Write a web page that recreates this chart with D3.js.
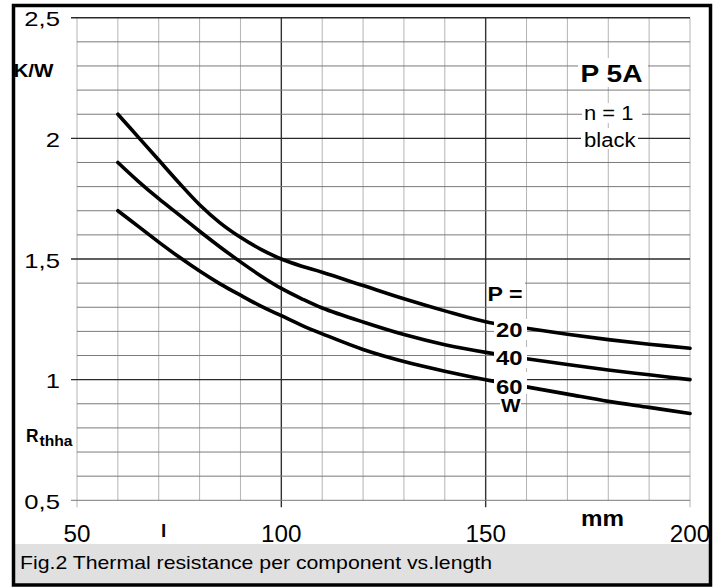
<!DOCTYPE html>
<html>
<head>
<meta charset="utf-8">
<script src="https://cdn.jsdelivr.net/npm/d3@7"></script>
<style>
  body { margin: 0; background: #fff; }
  svg text { font-family: "Liberation Sans", Arial, sans-serif; fill: #000; }
  .bold { font-weight: bold; }
</style>
</head>
<body>
<div id="chart"></div>
<script>
// length l in mm
var lengths = [60, 65, 70, 75, 80, 85, 90, 95, 100, 105, 110, 120, 130, 140, 150, 160, 170, 180, 190, 200]

// Rthha in K/W, one array per power P
var p20 = [2.10, 2.005, 1.91, 1.815, 1.725, 1.65, 1.59, 1.54, 1.50, 1.47, 1.445, 1.39, 1.335, 1.285, 1.24, 1.213, 1.188, 1.166, 1.147, 1.13]
var p40 = [1.90, 1.822, 1.75, 1.683, 1.615, 1.55, 1.488, 1.43, 1.378, 1.335, 1.297, 1.239, 1.187, 1.145, 1.113, 1.087, 1.063, 1.04, 1.02, 1.00]
var p60 = [1.70, 1.635, 1.57, 1.508, 1.45, 1.397, 1.35, 1.305, 1.265, 1.225, 1.19, 1.125, 1.075, 1.035, 1.00, 0.97, 0.94, 0.91, 0.885, 0.86]

var xTicks = [50, 100, 150, 200]
var yTicks = [0.5, 1, 1.5, 2, 2.5]
var yTickLabels = ["0,5", "1", "1,5", "2", "2,5"]
var powerLabels = ["20", "40", "60"]

var W = 723, H = 588

var svg = d3.select("#chart").append("svg")
  .attr("width", W)
  .attr("height", H)

var x = d3.scaleLinear().domain([50, 200]).range([77, 690])
  , y = d3.scaleLinear().domain([0.5, 2.5]).range([500.3, 17.7])

// squeeze/stretch a text to a given width
function fit(sel, w) {
  return sel.attr("textLength", w).attr("lengthAdjust", "spacingAndGlyphs")
}
function stretch(sel, k) {
  sel.each(function() {
    fit(d3.select(this), this.getComputedTextLength() * k)
  })
  return sel
}
function label(txt, px, py, size, bold) {
  return svg.append("text")
    .attr("class", bold ? "bold" : null)
    .attr("x", px).attr("y", py)
    .style("font-size", size + "px")
    .text(txt)
}
function mask(x0, y0, w, h) {
  svg.append("rect").attr("x", x0).attr("y", y0).attr("width", w).attr("height", h).attr("fill", "#fff")
}

// caption strip
svg.append("rect").attr("x", 15).attr("y", 544).attr("width", 694).attr("height", 41).attr("fill", "#e0e0e0")

// grid
var grid = svg.append("g")
d3.range(50, 201, 10).forEach(function(v) {
  var major = v === 100 || v === 150
  grid.append("line")
    .attr("x1", x(v)).attr("x2", x(v))
    .attr("y1", y(2.5)).attr("y2", y(0.5) + (v % 50 === 0 ? 7 : 0))
    .attr("stroke", major ? "#333" : "#b4b4b4")
    .attr("stroke-width", major ? 1.4 : 1)
})
d3.range(5, 26).forEach(function(i) {
  var v = i / 10
    , major = i % 5 === 0 && i !== 5
  grid.append("line")
    .attr("x1", x(50) - (i % 5 === 0 ? 6 : 0)).attr("x2", x(200))
    .attr("y1", y(v)).attr("y2", y(v))
    .attr("stroke", major ? "#2a2a2a" : "#7a7a7a")
    .attr("stroke-width", major ? 1.4 : 1)
})

// curves
var line = d3.line()
  .x(function(d) { return x(d[0]) })
  .y(function(d) { return y(d[1]) })
  .curve(d3.curveCatmullRom.alpha(0.5))

;[p20, p40, p60].forEach(function(s) {
  svg.append("path")
    .attr("d", line(d3.zip(lengths, s)))
    .attr("fill", "none")
    .attr("stroke", "#000")
    .attr("stroke-width", 3.6)
    .attr("stroke-linecap", "round")
})

// axis tick labels
yTicks.forEach(function(v, i) {
  stretch(label(yTickLabels[i], 60, y(v) + 8.5, 21).attr("text-anchor", "end"), 1.22)
})
xTicks.forEach(function(v) {
  stretch(label(String(v), x(v), 541.7, 23.5).attr("text-anchor", "middle"), 1.03)
})

// axis titles
fit(label("K/W", 13.5, 76.5, 17.5, true), 40)
fit(label("R", 26, 442, 17.5, true), 12.5)
fit(label("thha", 39.5, 446, 14, true), 33)
label("l", 161, 537, 19, true)
fit(label("mm", 581, 525.5, 22, true), 43)

// P = labels between the curves
mask(487, 280, 38, 24)
fit(label("P =", 487.5, 301, 20, true), 35)
var rows = [[319, 21], [347, 21], [372, 22]]
powerLabels.forEach(function(t, i) {
  mask(494, rows[i][0], 33, rows[i][1])
  fit(label(t, 496, [337, 365.3, 393.5][i], 20, true), 26.5)
})
mask(500, 396, 21, 17)
fit(label("W", 501, 411.5, 19, true), 19.5)

// type box top right
mask(578, 58, 70, 29)
fit(label("P 5A", 580.5, 82, 23, true), 62)
mask(582, 103, 60, 20)
fit(label("n = 1", 584, 119.5, 20), 49.5)
mask(581, 128, 57, 21)
fit(label("black", 584, 147, 20), 51.5)

// caption
fit(label("Fig.2 Thermal resistance per component vs.length", 20, 568.5, 18.5), 472)

// frame
svg.append("rect")
  .attr("x", 13.5).attr("y", 5.5)
  .attr("width", 697).attr("height", 579.5)
  .attr("fill", "none")
  .attr("stroke", "#000")
  .attr("stroke-width", 3.5)
</script>
</body>
</html>
